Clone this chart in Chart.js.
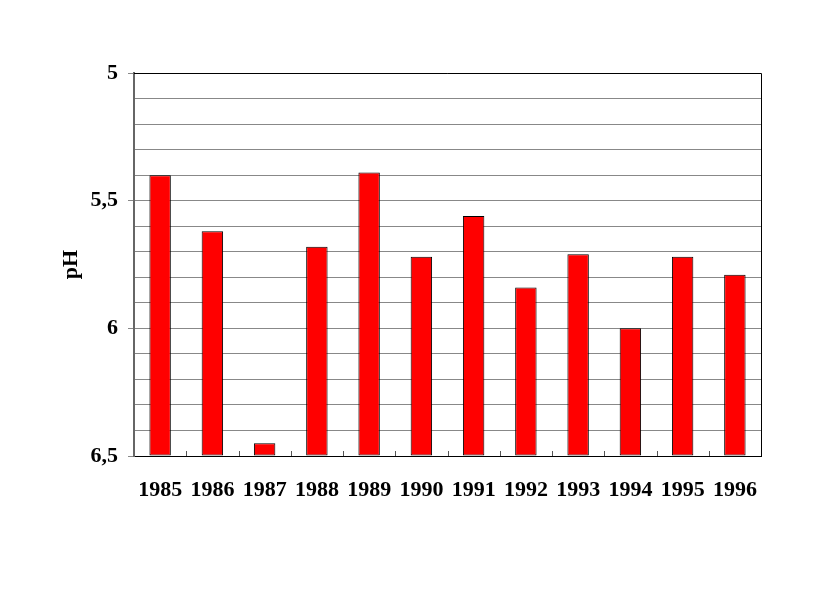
<!DOCTYPE html>
<html>
<head>
<meta charset="utf-8">
<script src="https://cdn.jsdelivr.net/npm/chart.js@4/dist/chart.umd.min.js"></script>
<style>
  html, body { margin: 0; padding: 0; background: #fff; }
  #wrap { width: 816px; height: 592px; }
</style>
</head>
<body>
<div id="wrap"><canvas id="ph-chart"></canvas></div>
<script>
// Yearly pH values (axis runs from 5 at the top to 6,5 at the bottom)
const years = ['1985', '1986', '1987', '1988', '1989', '1990', '1991', '1992', '1993', '1994', '1995', '1996'];
const phValues = [5.40, 5.62, 6.45, 5.68, 5.39, 5.72, 5.56, 5.84, 5.71, 6.00, 5.72, 5.79];
const phMin = 5;
const phMax = 6.5;
const phStep = 0.1;

const serif = '"Liberation Serif", "Times New Roman", serif';

function isMajor(v) {
  return Math.abs(v * 2 - Math.round(v * 2)) < 1e-6;
}

// top/right frame in black plus small inside ticks between the years
const framePlugin = {
  id: 'frame',
  afterDraw(chart) {
    const { ctx, chartArea: a } = chart;
    const x = chart.scales.x;
    ctx.save();
    ctx.strokeStyle = '#000';
    ctx.lineWidth = 1;
    ctx.beginPath();
    ctx.moveTo(a.left, a.top + 0.5);
    ctx.lineTo(a.right + 0.5, a.top + 0.5);
    ctx.lineTo(a.right + 0.5, a.bottom);
    ctx.stroke();
    ctx.strokeStyle = '#555';
    ctx.beginPath();
    for (let i = 1; i < years.length; i++) {
      const px = Math.round((x.getPixelForValue(i - 1) + x.getPixelForValue(i)) / 2) + 0.5;
      ctx.moveTo(px, a.bottom);
      ctx.lineTo(px, a.bottom - 5);
    }
    ctx.stroke();
    ctx.restore();
  }
};

new Chart(document.getElementById('ph-chart'), {
  type: 'bar',
  data: {
    labels: years,
    datasets: [{
      data: phValues,
      base: phMax,
      backgroundColor: '#ff0000',
      borderColor: '#000',
      borderWidth: 1,
      borderSkipped: false,
      barPercentage: 0.41,
      categoryPercentage: 1
    }]
  },
  options: {
    responsive: true,
    maintainAspectRatio: false,
    animation: false,
    layout: { padding: { left: 58, right: 55, top: 73, bottom: 0 } },
    plugins: {
      legend: { display: false },
      tooltip: { enabled: false }
    },
    scales: {
      x: {
        grid: { display: false },
        border: { color: '#000', width: 1 },
        ticks: {
          color: '#000',
          padding: 13,
          maxRotation: 0,
          autoSkip: false,
          font: { family: serif, size: 22, weight: 'bold' }
        },
        afterFit(scale) { scale.height = 136; }
      },
      y: {
        reverse: true,
        min: phMin,
        max: phMax,
        ticks: {
          stepSize: phStep,
          maxTicksLimit: 20,
          autoSkip: false,
          color: '#000',
          padding: 10,
          font: { family: serif, size: 22, weight: 'bold' },
          callback: (v) => isMajor(v) ? String(Math.round(v * 2) / 2).replace('.', ',') : ''
        },
        grid: {
          color: (c) => c.index === 0 ? '#000' : '#888',
          tickLength: 6,
          tickColor: (c) => (c.tick && isMajor(c.tick.value)) ? '#888' : 'rgba(0,0,0,0)'
        },
        border: { color: '#666', width: 2 },
        title: {
          display: true,
          text: 'pH',
          color: '#000',
          padding: 0,
          font: { family: serif, size: 22, weight: 'bold' }
        },
        afterFit(scale) { scale.width = 76; }
      }
    }
  },
  plugins: [framePlugin]
});
</script>
</body>
</html>
